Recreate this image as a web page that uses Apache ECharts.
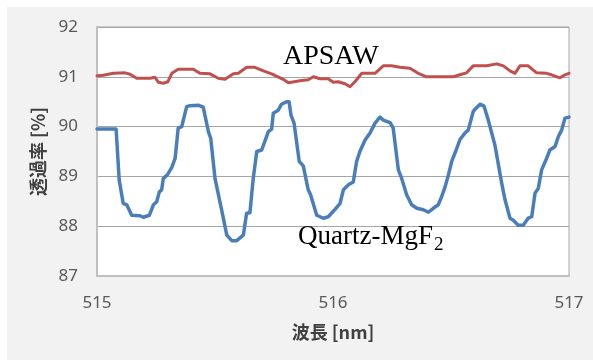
<!DOCTYPE html>
<html>
<head>
    <meta charset="utf-8">
    <title>透過率</title>
    <script src="https://cdn.jsdelivr.net/npm/echarts@6.0.0/dist/echarts.min.js"></script>
    <style>
        body, html { margin: 0; padding: 0; background: #fff; }
        #main { width: 593px; height: 360px; }
    </style>
</head>
<body>
    <div id="main"></div>
    <script>
        // 波長 [nm] と 透過率 [%]
        const quartzX = [515.000, 515.081, 515.094, 515.111, 515.126, 515.147, 515.182, 515.196, 515.222, 515.239,
            515.253, 515.264, 515.274, 515.281, 515.298, 515.317, 515.331, 515.344, 515.359, 515.380,
            515.394, 515.429, 515.450, 515.472, 515.482, 515.500, 515.507, 515.528, 515.550, 515.571,
            515.592, 515.620, 515.634, 515.648, 515.662, 515.677, 515.698, 515.726, 515.740, 515.747,
            515.768, 515.782, 515.803, 515.814, 515.822, 515.835, 515.857, 515.874, 515.895, 515.905,
            515.931, 515.959, 515.980, 516.005, 516.030, 516.044, 516.065, 516.086, 516.100, 516.114,
            516.136, 516.157, 516.178, 516.199, 516.213, 516.242, 516.255, 516.277, 516.291, 516.312,
            516.333, 516.355, 516.383, 516.404, 516.425, 516.446, 516.460, 516.475, 516.489, 516.503,
            516.524, 516.538, 516.559, 516.573, 516.594, 516.602, 516.623, 516.640, 516.658, 516.686,
            516.715, 516.729, 516.750, 516.764, 516.785, 516.806, 516.827, 516.842, 516.856, 516.870,
            516.884, 516.905, 516.919, 516.941, 516.955, 516.969, 516.983, 517.000];
        const quartzY = [89.95, 89.95, 88.93, 88.46, 88.43, 88.22, 88.21, 88.18, 88.22, 88.43,
            88.49, 88.69, 88.73, 88.96, 89.03, 89.18, 89.36, 89.97, 90.00, 90.40,
            90.42, 90.43, 90.39, 89.90, 89.76, 88.96, 88.94, 88.33, 87.82, 87.71,
            87.71, 87.82, 88.26, 88.27, 88.96, 89.50, 89.53, 89.90, 89.95, 90.27,
            90.33, 90.45, 90.50, 90.50, 90.23, 90.07, 89.30, 89.21, 88.73, 88.63,
            88.22, 88.16, 88.19, 88.32, 88.46, 88.73, 88.83, 88.89, 89.30, 89.50,
            89.73, 89.87, 90.07, 90.19, 90.13, 90.08, 89.97, 89.13, 88.96, 88.63,
            88.43, 88.36, 88.33, 88.28, 88.36, 88.43, 88.59, 88.79, 89.03, 89.30,
            89.56, 89.74, 89.87, 89.93, 90.30, 90.35, 90.45, 90.41, 90.13, 89.63,
            88.86, 88.53, 88.16, 88.12, 88.02, 88.02, 88.16, 88.19, 88.66, 88.76,
            89.13, 89.36, 89.53, 89.60, 89.80, 89.93, 90.17, 90.19];

        const apsawX = [515.000, 515.027, 515.069, 515.119, 515.140, 515.168, 515.225, 515.246, 515.260, 515.281,
            515.300, 515.317, 515.344, 515.408, 515.436, 515.479, 515.514, 515.542, 515.578, 515.599,
            515.634, 515.669, 515.705, 515.740, 515.789, 515.811, 515.860, 515.895, 515.917, 515.945,
            515.980, 516.001, 516.022, 516.051, 516.072, 516.093, 516.122, 516.178, 516.213, 516.248,
            516.284, 516.326, 516.361, 516.397, 516.510, 516.545, 516.566, 516.594, 516.651, 516.694,
            516.722, 516.750, 516.771, 516.792, 516.827, 516.863, 516.905, 516.926, 516.962, 516.983,
            517.000];
        const apsawY = [91.02, 91.03, 91.07, 91.08, 91.05, 90.97, 90.97, 90.99, 90.89, 90.87,
            90.90, 91.07, 91.15, 91.15, 91.07, 91.06, 90.97, 90.95, 91.06, 91.07,
            91.19, 91.19, 91.12, 91.06, 90.95, 90.88, 90.92, 90.94, 91.00, 90.96,
            90.96, 90.89, 90.90, 90.86, 90.80, 90.90, 91.07, 91.07, 91.22, 91.22,
            91.19, 91.17, 91.07, 91.00, 91.00, 91.05, 91.08, 91.22, 91.22, 91.26,
            91.22, 91.12, 91.07, 91.22, 91.22, 91.08, 91.07, 91.04, 90.98, 91.04,
            91.07];

        const zip = (xs, ys) => xs.map((x, i) => [x, ys[i]]);

        const chart = echarts.init(document.getElementById('main'));
        const labelFont = 'Noto Sans';
        const cjkFont = '"Noto Sans CJK JP"';

        chart.setOption({
            animation: false,
            backgroundColor: '#ffffff',
            graphic: [
                {
                    type: 'rect', z: -10, silent: true,
                    shape: { x: 7, y: 7, width: 600, height: 360 },
                    style: { fill: '#f2f2f2' }
                },
                {
                    type: 'text', z: 10, x: 283, y: 57,
                    style: {
                        text: 'APSAW', fill: '#000', font: '28px "Liberation Serif"',
                        textAlign: 'left', textVerticalAlign: 'middle'
                    }
                },
                {
                    type: 'text', z: 10, x: 298, y: 237,
                    style: {
                        text: 'Quartz-MgF', fill: '#000', font: '27px "Liberation Serif"',
                        textAlign: 'left', textVerticalAlign: 'middle'
                    }
                },
                {
                    type: 'text', z: 10, x: 434, y: 245,
                    style: {
                        text: '2', fill: '#000', font: '19px "Liberation Serif"',
                        textAlign: 'left', textVerticalAlign: 'middle'
                    }
                }
            ],
            grid: {
                left: 97, right: 24, top: 27, bottom: 84,
                show: true, backgroundColor: '#ffffff',
                borderColor: '#a6a6a6', borderWidth: 1
            },
            xAxis: {
                type: 'value', min: 515, max: 517, interval: 1,
                name: '波長 [nm]', nameLocation: 'middle', nameGap: 47,
                nameTextStyle: { fontFamily: cjkFont, fontSize: 18, fontWeight: 'bold', color: '#404040' },
                axisLine: { show: true, lineStyle: { color: '#bfbfbf', width: 2 } },
                axisTick: { show: false },
                axisLabel: { margin: 19, fontFamily: labelFont, fontSize: 17, color: '#595959' },
                splitLine: { show: false }
            },
            yAxis: {
                type: 'value', min: 87, max: 92, interval: 1,
                name: '透過率 [%]', nameLocation: 'middle', nameGap: 46, nameRotate: 90,
                nameTextStyle: { fontFamily: cjkFont, fontSize: 18, fontWeight: 'bold', color: '#404040' },
                axisLine: { show: true, lineStyle: { color: '#bfbfbf', width: 2 } },
                axisTick: { show: false },
                axisLabel: { margin: 19, fontFamily: labelFont, fontSize: 17, color: '#595959' },
                splitLine: { show: true, lineStyle: { color: '#a6a6a6', width: 1 } }
            },
            series: [
                {
                    name: 'APSAW', type: 'line', data: zip(apsawX, apsawY),
                    showSymbol: false, symbol: 'none',
                    lineStyle: { color: '#c0504d', width: 3, cap: 'round', join: 'round' }
                },
                {
                    name: 'Quartz-MgF2', type: 'line', data: zip(quartzX, quartzY),
                    showSymbol: false, symbol: 'none',
                    lineStyle: { color: '#4a7ebb', width: 3.5, cap: 'round', join: 'round' }
                }
            ]
        });
    </script>
</body>
</html>
